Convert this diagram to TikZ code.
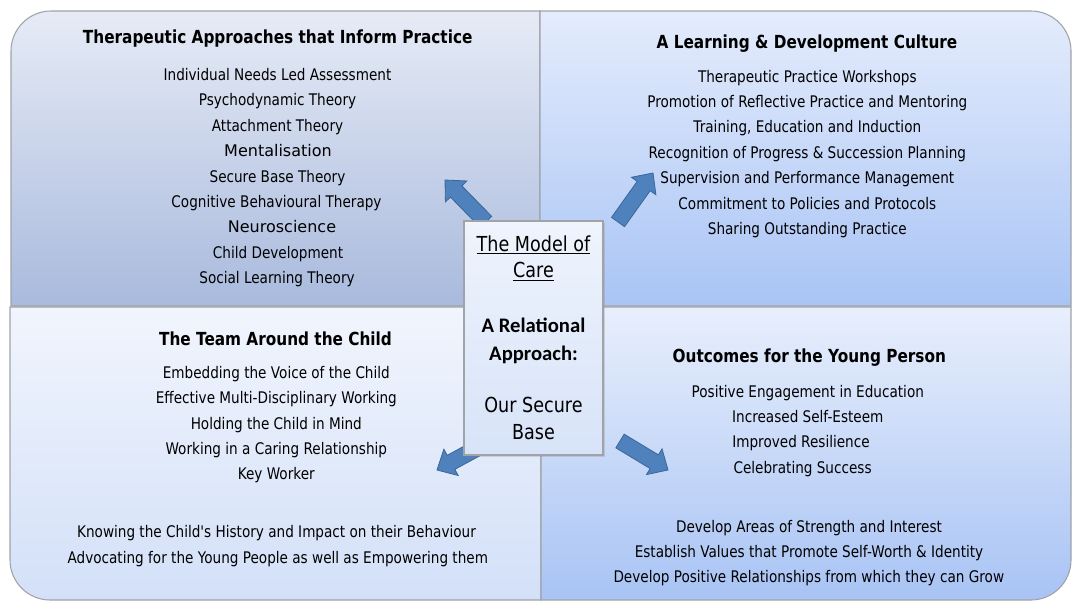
\documentclass[tikz,border=0pt]{standalone}
\usepackage{fontspec}
\newfontfamily\qf[FakeStretch=0.85]{DejaVu Sans}
\newfontfamily\qw{DejaVu Sans}
\newfontfamily\cf{Carlito}
\usetikzlibrary{calc,shadows}
\definecolor{tltop}{HTML}{E6EBF6}
\definecolor{tlbot}{HTML}{A9BADD}
\definecolor{trtop}{HTML}{E4ECFC}
\definecolor{trbot}{HTML}{A9C4F5}
\definecolor{bltop}{HTML}{F1F5FD}
\definecolor{blbot}{HTML}{D3E0F8}
\definecolor{brtop}{HTML}{E8EFFC}
\definecolor{brbot}{HTML}{A8C3F4}
\definecolor{cbtop}{HTML}{EFF4FD}
\definecolor{cbbot}{HTML}{D7E3F8}
\definecolor{edge}{HTML}{A0A3A8}
\definecolor{arrfill}{HTML}{4F81BD}
\definecolor{arredge}{HTML}{3A669A}
\newcommand{\blockarr}[3]{%
  \path ($(#2)!12pt!(#1)$) coordinate (#3h);
  \filldraw[arrowbody] ($(#1)!6pt!90:(#2)$) -- ($(#3h)!6pt!-90:(#1)$)
    -- ($(#3h)!11.25pt!-90:(#1)$) -- (#2) -- ($(#3h)!11.25pt!90:(#1)$)
    -- ($(#3h)!6pt!90:(#1)$) -- ($(#1)!6pt!-90:(#2)$) -- cycle;}
\begin{document}
\begin{tikzpicture}[x=0.75pt,y=-0.75pt,
  panel/.style={draw=edge, line width=0.8pt},
  item/.style={anchor=base, inner sep=0pt, font=\qf\fontsize{12}{14}\selectfont},
  itemw/.style={anchor=base, inner sep=0pt, font=\qw\fontsize{12}{14}\selectfont},
  head/.style={anchor=base, inner sep=0pt, font=\qf\bfseries\fontsize{13.5}{16}\selectfont},
  arrowbody/.style={fill=arrfill, draw=arredge, line width=0.6pt, line join=miter},
  ctext/.style={anchor=base, inner sep=0pt, font=\qf\fontsize{15.5}{18}\selectfont},
  cbold/.style={anchor=base, inner sep=0pt, font=\cf\bfseries\fontsize{15.5}{18}\selectfont}]
\useasboundingbox (0,0) rectangle (1072,601);
\fill[white] (0,0) rectangle (1072,601);
% panels
\path[panel, top color=tltop, bottom color=tlbot]
  (540,306) -- (11,306) -- (11,51) .. controls (11,29) and (29,11) .. (51,11) -- (540,11) -- cycle;
\path[panel, top color=trtop, bottom color=trbot]
  (540,11) -- (1031,11) .. controls (1053,11) and (1071,29) .. (1071,51) -- (1071,306) -- (540,306) -- cycle;
\path[panel, top color=bltop, bottom color=blbot]
  (10,307) -- (541,307) -- (541,600) -- (50,600) .. controls (28,600) and (10,582) .. (10,560) -- cycle;
\path[panel, top color=brtop, bottom color=brbot]
  (541,307) -- (1071,307) -- (1071,560) .. controls (1071,582) and (1053,600) .. (1031,600) -- (541,600) -- cycle;
% top left
\node[head] (tlh) at (277.7,43) {Therapeutic Approaches that Inform Practice};
\node[item]  (tl1) at (277.5,80.5)  {Individual Needs Led Assessment};
\node[item]  (tl2) at (277.5,105.9) {Psychodynamic Theory};
\node[item]  (tl3) at (277.5,131.3) {Attachment Theory};
\node[itemw] (tl4) at (278,156.7)   {Mentalisation};
\node[item]  (tl5) at (277.5,182.1) {Secure Base Theory};
\node[item]  (tl6) at (276.5,207.5) {Cognitive Behavioural Therapy};
\node[itemw] (tl7) at (282,232.9)   {Neuroscience};
\node[item]  (tl8) at (278,258.3)   {Child Development};
\node[item]  (tl9) at (277,283.7)   {Social Learning Theory};
% top right
\node[head] (trh) at (807,48) {A Learning \& Development Culture};
\node[item] (tr1) at (807.3,82)    {Therapeutic Practice Workshops};
\node[item] (tr2) at (807.3,107.4) {Promotion of Reflective Practice and Mentoring};
\node[item] (tr3) at (807.3,132.8) {Training, Education and Induction};
\node[item] (tr4) at (807.3,158.2) {Recognition of Progress \& Succession Planning};
\node[item] (tr5) at (807.3,183.6) {Supervision and Performance Management};
\node[item] (tr6) at (807.3,209)   {Commitment to Policies and Protocols};
\node[item] (tr7) at (807.3,234.4) {Sharing Outstanding Practice};
% bottom left
\node[head] (blh) at (275.5,345) {The Team Around the Child};
\node[item] (bl1) at (276.3,378.3) {Embedding the Voice of the Child};
\node[item] (bl2) at (276.3,403.7) {Effective Multi-Disciplinary Working};
\node[item] (bl3) at (276.3,429.1) {Holding the Child in Mind};
\node[item] (bl4) at (276.3,454.5) {Working in a Caring Relationship};
\node[item] (bl5) at (276.3,479.9) {Key Worker};
\node[item] (bl6) at (276.5,537.3) {Knowing the Child\char"27 s History and Impact on their Behaviour};
\node[item] (bl7) at (277.8,563)   {Advocating for the Young People as well as Empowering them};
% bottom right
\node[head] (brh) at (809.3,362.7) {Outcomes for the Young Person};
\node[item] (br1) at (807.8,397)   {Positive Engagement in Education};
\node[item] (br2) at (807.8,422.4) {Increased Self-Esteem};
\node[item] (br3) at (801,447.8)   {Improved Resilience};
\node[item] (br4) at (802.6,473.2) {Celebrating Success};
\node[item] (br5) at (809,532)     {Develop Areas of Strength and Interest};
\node[item] (br6) at (809,557.4)   {Establish Values that Promote Self-Worth \& Identity};
\node[item] (br7) at (808.8,582.8) {Develop Positive Relationships from which they can Grow};
% arrows
\coordinate (a1t) at (486,222); \coordinate (a1h) at (445,180);
\coordinate (a2t) at (618,222); \coordinate (a2h) at (653,173);
\coordinate (a3t) at (486.5,443); \coordinate (a3h) at (437,470);
\coordinate (a4t) at (620,441); \coordinate (a4h) at (668,470);
\blockarr{a1t}{a1h}{ar1}
\blockarr{a2t}{a2h}{ar2}
\blockarr{a3t}{a3h}{ar3}
\blockarr{a4t}{a4h}{ar4}
% center box
\path[draw=edge, line width=0.8pt, top color=cbtop, bottom color=cbbot,
  drop shadow={shadow xshift=1.2pt, shadow yshift=-1.2pt, opacity=0.25}]
  (464,221) rectangle (603,455);
\node[ctext] (c1) at (533.5,251)   {\underline{The Model of}};
\node[ctext] (c2) at (533.5,277.7) {\underline{Care}};
\node[cbold] (c3) at (533.5,332.7) {A Relational};
\node[cbold] (c4) at (533.5,360)   {Approach:};
\node[ctext] (c5) at (533.5,412.7) {Our Secure};
\node[ctext] (c6) at (533.5,439.3) {Base};
\end{tikzpicture}
\end{document}
